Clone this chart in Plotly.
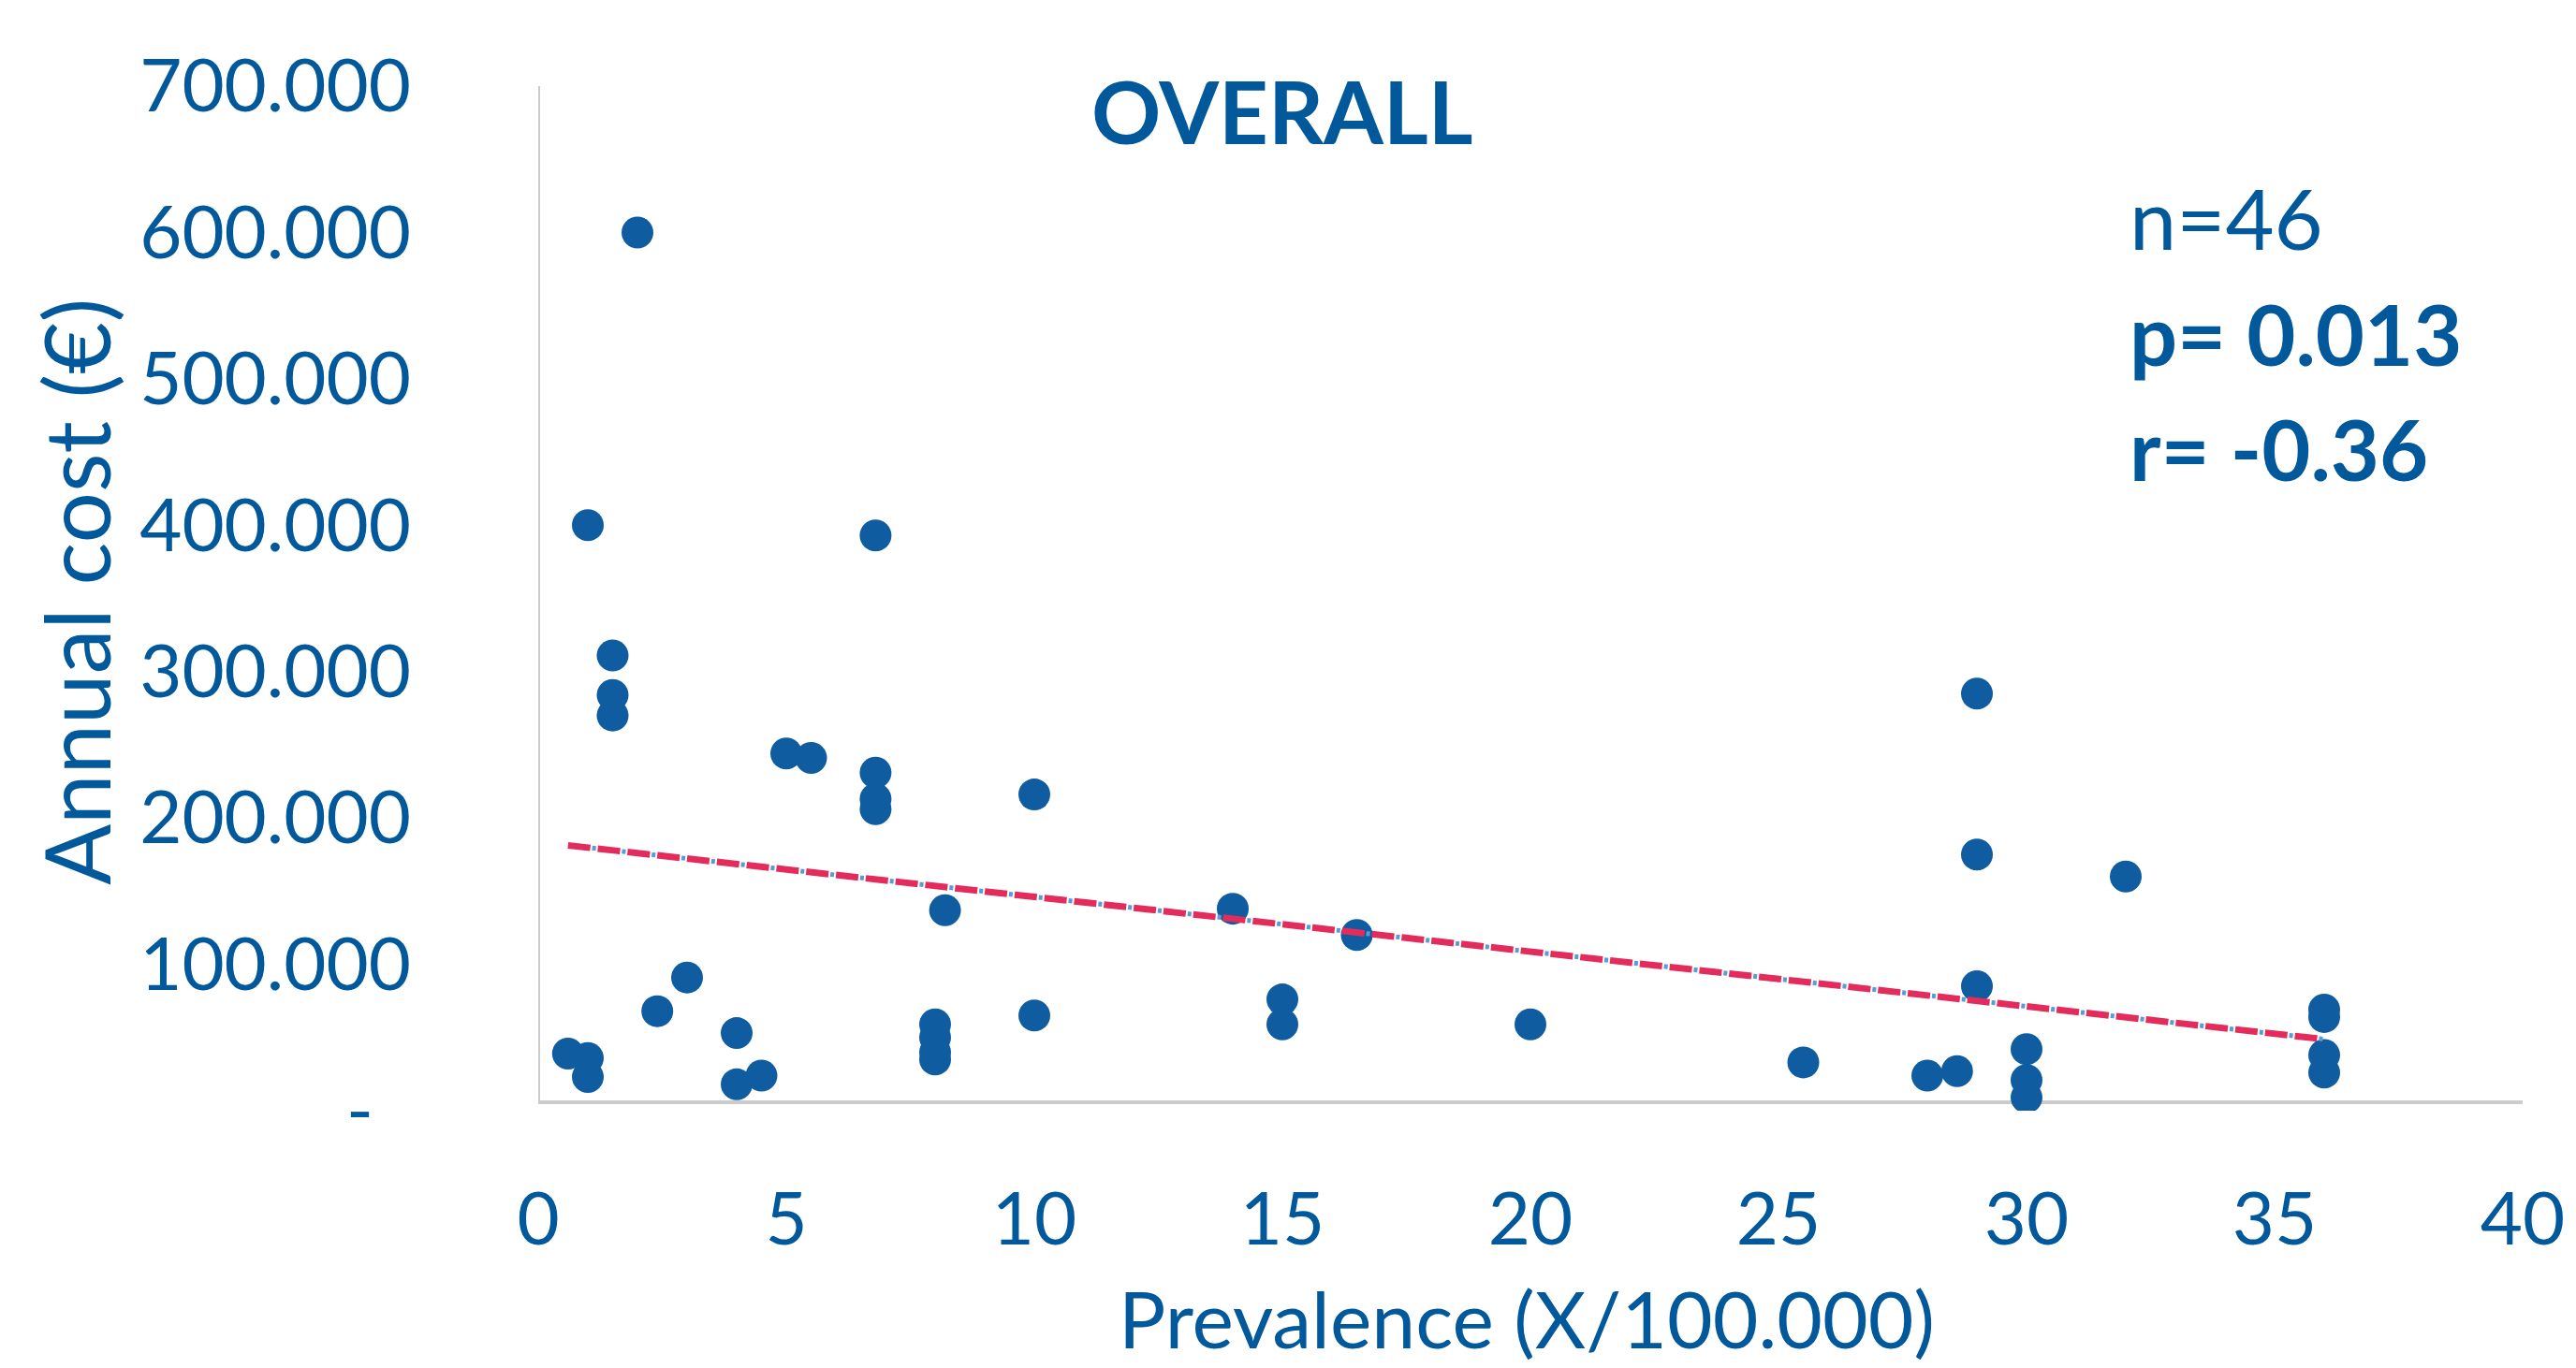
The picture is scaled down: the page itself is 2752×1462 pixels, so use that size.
import numpy as np
import plotly.graph_objects as go

# Data
prevalence = [2, 1, 6.8, 1.5, 1.5, 1.5, 5, 5.5, 6.8, 6.8, 6.8, 10, 8.2, 3, 2.4, 4, 10,
              0.6, 1, 1, 4, 4.5, 8, 8, 8, 8, 14, 16.5, 15, 15, 20, 25.5,
              29, 29, 29, 32, 28, 28.6, 30, 30, 30, 36, 36, 36, 36]
annual_cost = [600000, 400000, 393000, 311000, 284000, 270000, 244000, 241000, 231000,
               213000, 206000, 216000, 137000, 91000, 68000, 53000, 65000,
               39000, 36000, 23000, 18000, 24000, 59000, 50000, 40000, 35000,
               138000, 120000, 76000, 59000, 59000, 33000,
               285000, 175000, 85000, 160000, 24000, 27000, 42000, 21000, 9000,
               69000, 64000, 38000, 26000]

x_ticks = [0, 5, 10, 15, 20, 25, 30, 35, 40]
y_tickvals = [0, 100000, 200000, 300000, 400000, 500000, 600000, 700000]
y_ticktext = ["-\u00a0\u00a0", "100.000", "200.000", "300.000", "400.000", "500.000", "600.000", "700.000"]

title_text = "OVERALL"
stats_lines = ["n=46", "<b>p= 0.013</b>", "<b>r= -0.36</b>"]
x_title = "Prevalence (X/100.000)"
y_title = "Annual cost (€)"

TEXT = "#01589B"
FONT = "Lato"

x_arr = np.array(prevalence, dtype=float)
y_arr = np.array(annual_cost, dtype=float)
slope, intercept = np.polyfit(x_arr, y_arr, 1)
fit_x = np.array([x_arr.min(), x_arr.max()])
fit_y = intercept + slope * fit_x

fig = go.Figure()
fig.add_trace(go.Scatter(x=x_arr, y=y_arr, mode="markers",
                         marker=dict(size=34, color="#0F5DA0", line=dict(width=0)),
                         showlegend=False, hoverinfo="x+y"))
fig.add_trace(go.Scatter(x=fit_x, y=fit_y, mode="lines",
                         line=dict(color="#E42C5C", width=7, dash="24px,8px"),
                         showlegend=False, hoverinfo="skip"))
fig.add_trace(go.Scatter(x=fit_x, y=fit_y, mode="lines",
                         line=dict(color="#5B9BD5", width=5, dash="0px,26px,4px,2px"),
                         showlegend=False, hoverinfo="skip"))

# axis lines (slightly offset above zero as in the original)
fig.add_shape(type="line", xref="x", yref="y", x0=0, x1=0, y0=5800, y1=706400,
              line=dict(color="#CCCCCC", width=4), layer="below")
fig.add_shape(type="line", xref="x", yref="y", x0=0, x1=40, y0=5800, y1=5800,
              line=dict(color="#CCCCCC", width=4), layer="below")

fig.update_layout(
    width=2752, height=1462,
    margin=dict(l=575, r=54, t=92, b=275),
    paper_bgcolor="white", plot_bgcolor="white",
    font=dict(family=FONT, color=TEXT, size=78),
    xaxis=dict(range=[0, 40], tickvals=x_ticks, ticktext=[str(v) for v in x_ticks],
               showgrid=False, zeroline=False, showline=False, ticks="",
               ticklabelstandoff=64, tickfont=dict(size=78, color=TEXT, family=FONT)),
    yaxis=dict(range=[0, 700000], tickvals=y_tickvals, ticktext=y_ticktext,
               showgrid=False, zeroline=False, showline=False, ticks="",
               ticklabelstandoff=135, tickfont=dict(size=78, color=TEXT, family=FONT)),
)

fig.add_annotation(text=f"<b>{title_text}</b>", xref="paper", yref="paper",
                   x=0.375, y=0.976, showarrow=False, xanchor="center", yanchor="middle",
                   font=dict(size=92, color=TEXT, family=FONT))
for txt, yy in zip(stats_lines, [0.872, 0.759, 0.647]):
    fig.add_annotation(text=txt, xref="paper", yref="paper", x=0.801, y=yy,
                       showarrow=False, xanchor="left", yanchor="middle",
                       font=dict(size=90, color=TEXT, family=FONT))
fig.add_annotation(text=x_title, xref="paper", yref="paper", x=0.4979, y=-0.202,
                   showarrow=False, xanchor="center", yanchor="middle",
                   font=dict(size=84, color=TEXT, family=FONT))
fig.add_annotation(text=y_title, xref="paper", yref="paper", x=-0.2336, y=0.5068,
                   textangle=-90, showarrow=False, xanchor="center", yanchor="middle",
                   font=dict(size=96, color=TEXT, family=FONT))

fig.write_html("out.html", config={"displayModeBar": False},
               post_script="document.body.style.margin='0';")
